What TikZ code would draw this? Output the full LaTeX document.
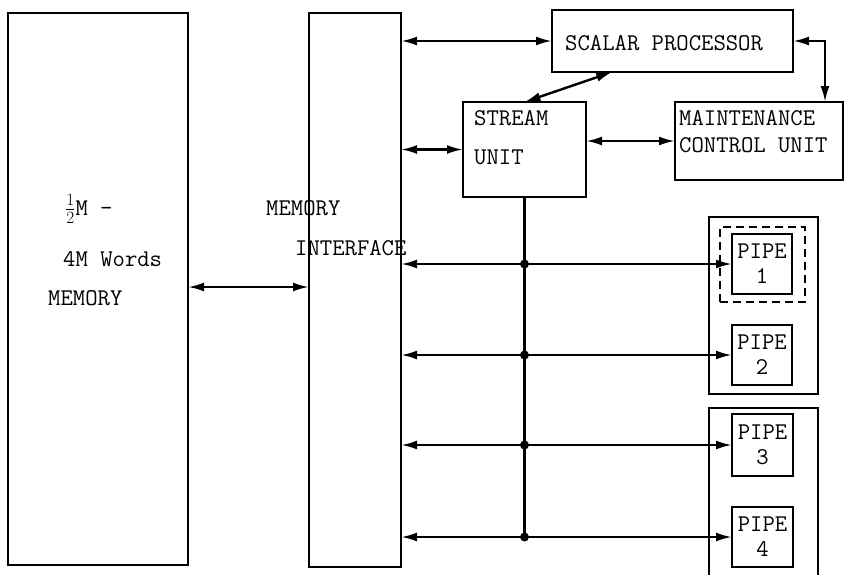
\documentclass[tikz,border=0pt]{standalone}
\usetikzlibrary{arrows.meta,calc}
\begin{document}
\begin{tikzpicture}[x=1pt,y=-1pt,
  box/.style={draw, line width=2.8pt, inner sep=0pt, outer sep=0pt},
  pipebox/.style={box, minimum width=60pt, align=center, font=\fontsize{24}{25}\selectfont\ttfamily},
  lbl/.style={inner sep=0pt, anchor=base west, font=\fontsize{24}{25}\selectfont\ttfamily},
  conn/.style={line width=2.4pt},
  dbl/.style={conn, {Latex[length=16pt,width=9pt]}-{Latex[length=16pt,width=9pt]}},
  jdot/.style={circle, fill, inner sep=0pt, minimum size=9pt}]
\useasboundingbox (0,0) rectangle (846,574);
\clip (0,0) rectangle (846,574);

% main boxes
\node[box, minimum width=180pt, minimum height=552pt] (mem) at (98,289) {};
\node[box, minimum width=92pt, minimum height=554pt] (iface) at (355,290) {};
\node[box, minimum width=241pt, minimum height=62pt] (scalar) at (672.5,41) {};
\node[box, minimum width=123pt, minimum height=95pt] (stream) at (524.5,149.5) {};
\node[box, minimum width=168pt, minimum height=78pt] (mcu) at (759,141) {};

% pipe groups
\node[box, minimum width=109pt, minimum height=177pt] (g1) at (763.5,305.5) {};
\node[box, minimum width=109pt, minimum height=182pt] (g2) at (763.5,499) {};
\node[box, dash pattern=on 8pt off 5pt, minimum width=85pt, minimum height=75pt] (dsh) at (762.5,264.5) {};
\node[pipebox, minimum height=60pt] (p1) at (762,264) {PIPE\\1};
\node[pipebox, minimum height=60pt] (p2) at (762,355) {PIPE\\2};
\node[pipebox, minimum height=62pt, minimum width=61pt] (p3) at (762.5,445) {PIPE\\3};
\node[pipebox, minimum height=60pt, minimum width=61pt] (p4) at (762.5,537) {PIPE\\4};

% labels
\node[lbl] (t1) at (65,215) {$\frac{1}{2}$M -};
\node[lbl] (t2) at (63,266) {4M Words};
\node[lbl] (t3) at (48,305) {MEMORY};
\node[lbl] (t4) at (266,215) {MEMORY};
\node[lbl] (t5) at (295,255) {INTERFACE};
\node[lbl] (t6) at (565,50) {SCALAR PROCESSOR};
\node[lbl] (t7) at (474,125) {STREAM};
\node[lbl] (t8) at (474,164) {UNIT};
\node[lbl] (t9) at (679,125) {MAINTENANCE};
\node[lbl] (t10) at (679,152) {CONTROL UNIT};

% helper coordinates
\coordinate (ym) at (0,287);
\coordinate (xc) at (825,0);

% connectors
\draw[dbl] (mem.east |- ym) -- (iface.west |- ym);
\draw[dbl] (iface.east |- scalar.west) -- (scalar.west);
\draw[dbl] (iface.east |- stream.west) -- (stream.west);
\draw[dbl] (stream.east |- mcu.west) -- (mcu.west);
\draw[dbl] (stream.north) -- ($(scalar.south west)!0.25!(scalar.south east)$);
\draw[dbl] (scalar.east) -| (mcu.north -| xc);

% bus
\draw[conn] (stream.south) -- (stream.south |- p4.west);
\foreach \p in {p1,p2,p3,p4}{
  \draw[dbl] (iface.east |- \p.west) -- (\p.west);
  \node[jdot] at (stream.south |- \p.west) {};
}
\end{tikzpicture}
\end{document}
